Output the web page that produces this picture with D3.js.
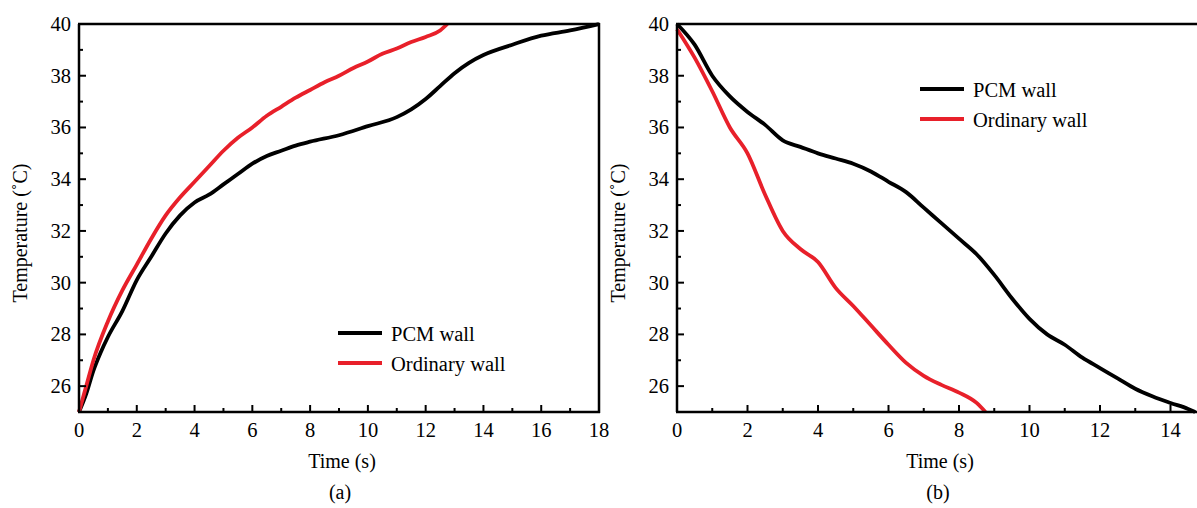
<!DOCTYPE html>
<html>
<head>
<meta charset="utf-8">
<script src="https://cdn.jsdelivr.net/npm/d3@7"></script>
<style>
  body { margin: 0; background: #fff; }
  text { font-family: "Liberation Serif", "Times New Roman", serif; fill: #000; }
</style>
</head>
<body>
<script>
// panel (a): heating, time in s
var timeA = [0, 0.25, 0.5, 0.75, 1, 1.5, 2, 2.5, 3, 3.5, 4, 4.5, 5, 5.5, 6, 6.5, 7, 7.5, 8, 9, 10, 11, 11.5, 12, 12.5, 13, 13.5, 14, 15, 16, 17, 18];
var pcmA   = [25, 25.7, 26.6, 27.3, 27.9, 28.9, 30.1, 31.0, 31.9, 32.6, 33.1, 33.4, 33.8, 34.2, 34.6, 34.9, 35.1, 35.3, 35.45, 35.7, 36.05, 36.4, 36.7, 37.1, 37.6, 38.1, 38.5, 38.8, 39.2, 39.55, 39.75, 40];
var timeA2 = [0, 0.25, 0.5, 1, 1.5, 2, 2.5, 3, 3.5, 4, 4.5, 5, 5.5, 6, 6.5, 7, 7.5, 8, 8.5, 9, 9.5, 10, 10.5, 11, 11.5, 12, 12.5, 12.75];
var ordA   = [25, 26.0, 27.0, 28.5, 29.7, 30.7, 31.7, 32.6, 33.3, 33.9, 34.5, 35.1, 35.6, 36.0, 36.45, 36.8, 37.15, 37.45, 37.75, 38.0, 38.3, 38.55, 38.85, 39.05, 39.3, 39.5, 39.75, 40];

// panel (b): cooling
var timeB = [0, 0.5, 1, 1.5, 2, 2.5, 3, 3.5, 4, 4.5, 5, 5.5, 6, 6.5, 7, 7.5, 8, 8.5, 9, 9.5, 10, 10.5, 11, 11.5, 12, 12.5, 13, 13.5, 14, 14.5, 14.7];
var pcmB  = [40, 39.2, 38.0, 37.2, 36.6, 36.1, 35.5, 35.25, 35.0, 34.8, 34.6, 34.3, 33.9, 33.5, 32.9, 32.3, 31.7, 31.1, 30.3, 29.4, 28.6, 28.0, 27.6, 27.1, 26.7, 26.3, 25.9, 25.6, 25.35, 25.12, 25];
var timeB2 = [0, 0.5, 1, 1.5, 2, 2.5, 3, 3.5, 4, 4.5, 5, 5.5, 6, 6.5, 7, 7.5, 8, 8.5, 8.75];
var ordB   = [39.8, 38.7, 37.4, 36.0, 35.0, 33.4, 32.0, 31.3, 30.8, 29.8, 29.1, 28.35, 27.6, 26.9, 26.4, 26.05, 25.75, 25.35, 25.0];

var seriesNames = ["PCM wall", "Ordinary wall"];
var seriesColors = ["#000000", "#e8202a"];
var yTicks = [26, 28, 30, 32, 34, 36, 38, 40];

var svg = d3.select("body").append("svg")
    .attr("width", 1197)
    .attr("height", 508);

function zip(t, v) {
  return t.map(function(d, i) { return {t: d, v: v[i]}; });
}

function drawPanel(opt) {
  var x = d3.scaleLinear().domain(opt.xDomain).range([opt.left, opt.right]);
  var y = d3.scaleLinear().domain([25, 40]).range([412, 24]);
  var g = svg.append("g");

  var line = d3.line()
      .x(function(d) { return x(d.t); })
      .y(function(d) { return y(d.v); })
      .curve(d3.curveMonotoneX);

  // curves
  opt.series.forEach(function(s, i) {
    g.append("path")
      .datum(s)
      .attr("fill", "none")
      .attr("stroke", seriesColors[i])
      .attr("stroke-width", 3.8)
      .attr("stroke-linejoin", "round")
      .attr("d", line);
  });

  // frame
  g.append("line").attr("x1", opt.left).attr("x2", opt.left).attr("y1", 24).attr("y2", 412)
    .attr("stroke", "#000").attr("stroke-width", 2.5);
  g.append("line").attr("x1", opt.left - 1).attr("x2", opt.frameRight).attr("y1", 412).attr("y2", 412)
    .attr("stroke", "#000").attr("stroke-width", 2.5);
  g.append("line").attr("x1", opt.left - 1).attr("x2", opt.frameRight).attr("y1", 24).attr("y2", 24)
    .attr("stroke", "#000").attr("stroke-width", 2.5);
  if (opt.closeRight) {
    g.append("line").attr("x1", opt.right).attr("x2", opt.right).attr("y1", 23).attr("y2", 413)
      .attr("stroke", "#000").attr("stroke-width", 2.5);
  }

  // x axis ticks (inward) and labels
  var xMaj = d3.range(0, opt.xDomain[1] + 0.01, 2);
  var xMin = d3.range(1, opt.xDomain[1], 2);
  g.selectAll(".xmaj").data(xMaj).enter().append("line")
    .attr("x1", x).attr("x2", x).attr("y1", 412).attr("y2", 405)
    .attr("stroke", "#000").attr("stroke-width", 2);
  g.selectAll(".xmin").data(xMin).enter().append("line")
    .attr("x1", x).attr("x2", x).attr("y1", 412).attr("y2", 408)
    .attr("stroke", "#000").attr("stroke-width", 2);
  g.selectAll(".xlab").data(xMaj).enter().append("text")
    .attr("x", x).attr("y", 437)
    .attr("text-anchor", "middle")
    .attr("font-size", 20.5)
    .text(function(d) { return d; });

  // y axis ticks and labels
  g.selectAll(".ymaj").data(yTicks).enter().append("line")
    .attr("x1", opt.left).attr("x2", opt.left + 7).attr("y1", y).attr("y2", y)
    .attr("stroke", "#000").attr("stroke-width", 2);
  g.selectAll(".ymin").data(d3.range(27, 40, 2)).enter().append("line")
    .attr("x1", opt.left).attr("x2", opt.left + 4).attr("y1", y).attr("y2", y)
    .attr("stroke", "#000").attr("stroke-width", 2);
  g.selectAll(".ylab").data(yTicks).enter().append("text")
    .attr("x", opt.left - 8).attr("y", function(d) { return y(d) + 7; })
    .attr("text-anchor", "end")
    .attr("font-size", 20.5)
    .text(function(d) { return d; });

  // axis titles
  g.append("text")
    .attr("transform", "translate(" + (opt.left - 52) + ",233) rotate(-90)")
    .attr("text-anchor", "middle")
    .attr("font-size", 20)
    .text("Temperature (\u02DAC)");
  g.append("text")
    .attr("x", opt.titleX).attr("y", 468)
    .attr("text-anchor", "middle")
    .attr("font-size", 20)
    .text("Time (s)");
  g.append("text")
    .attr("x", opt.titleX - 2).attr("y", 499)
    .attr("text-anchor", "middle")
    .attr("font-size", 20)
    .text(opt.tag);

  // legend
  seriesNames.forEach(function(name, i) {
    var ly = opt.legendY + i * 30;
    g.append("line")
      .attr("x1", opt.legendX).attr("x2", opt.legendX + 44)
      .attr("y1", ly).attr("y2", ly)
      .attr("stroke", seriesColors[i]).attr("stroke-width", 4);
    g.append("text")
      .attr("x", opt.legendX + 53).attr("y", ly + 8)
      .attr("font-size", 20.5)
      .text(name);
  });
}

drawPanel({
  left: 79, right: 599, frameRight: 600, closeRight: true,
  xDomain: [0, 18],
  series: [zip(timeA, pcmA), zip(timeA2, ordA)],
  titleX: 342, tag: "(a)",
  legendX: 338, legendY: 333
});

drawPanel({
  left: 677, right: 1198, frameRight: 1197, closeRight: false,
  xDomain: [0, 14.78],
  series: [zip(timeB, pcmB), zip(timeB2, ordB)],
  titleX: 940, tag: "(b)",
  legendX: 920, legendY: 89
});
</script>
</body>
</html>
